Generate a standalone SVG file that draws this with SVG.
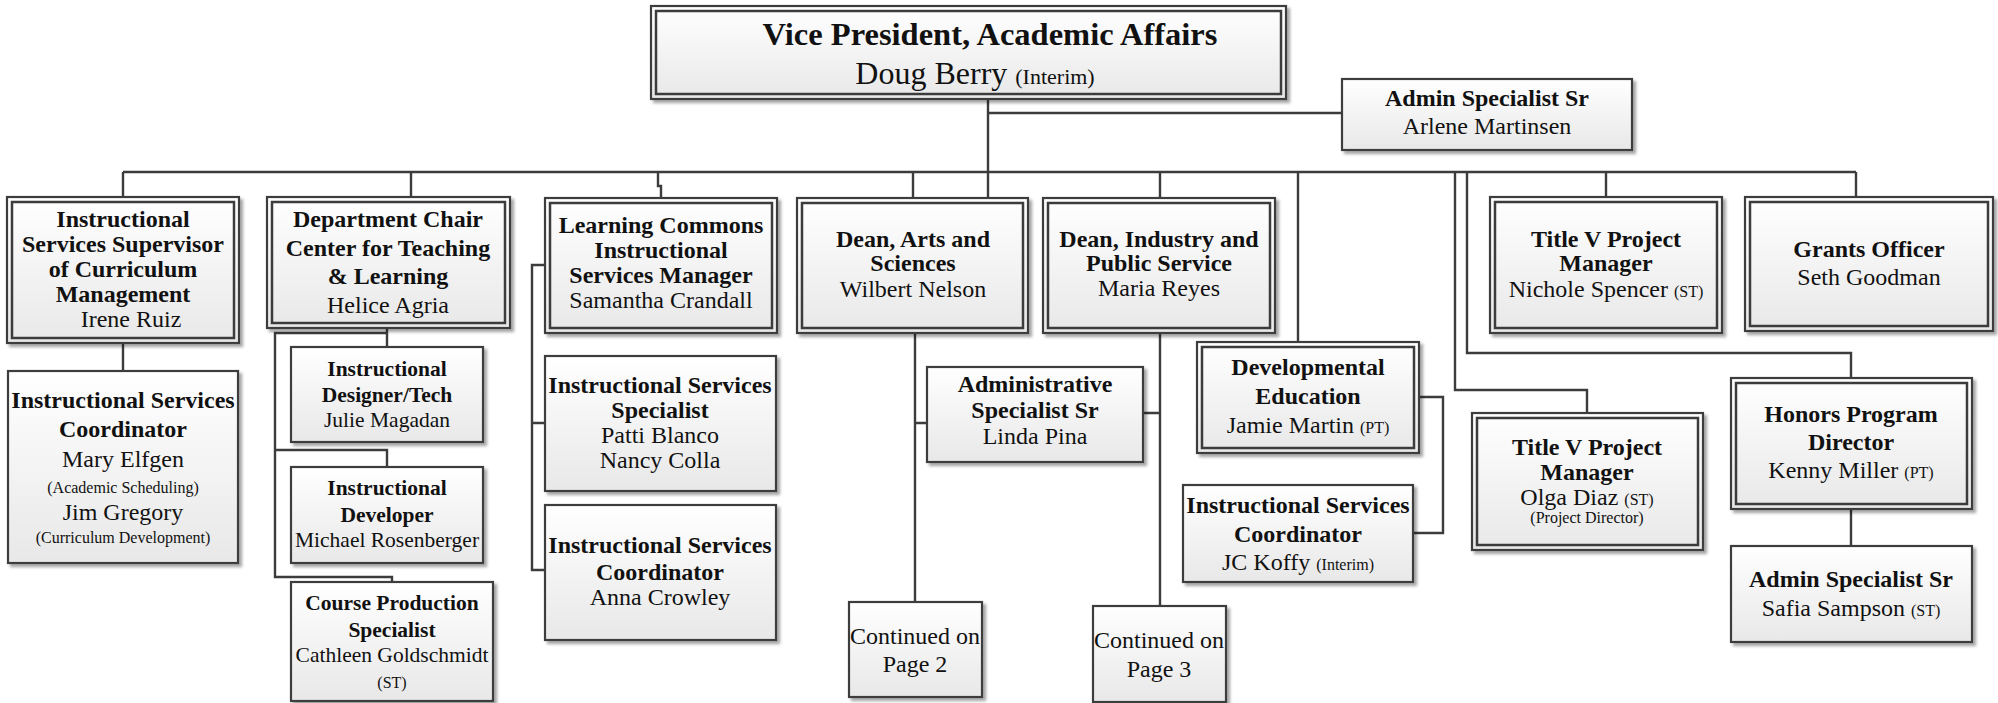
<svg xmlns="http://www.w3.org/2000/svg" width="1998" height="703" viewBox="0 0 1998 703">
<defs>
<linearGradient id="grad" x1="0" y1="0" x2="0" y2="1">
<stop offset="0" stop-color="#ffffff"/>
<stop offset="1" stop-color="#e8e8e8"/>
</linearGradient>
<filter id="sh" x="-5%" y="-5%" width="115%" height="120%">
<feDropShadow dx="3" dy="3" stdDeviation="1.5" flood-color="#000" flood-opacity="0.35"/>
</filter>
<style>
.box{fill:url(#grad);stroke:#3c3c3c;stroke-width:2.2;filter:url(#sh)}
.in{fill:none;stroke:#3c3c3c;stroke-width:2.5}
.conn{fill:none;stroke:#3c3c3c;stroke-width:2.4}
text{font-family:"Liberation Serif","Times New Roman",serif;fill:#111;text-anchor:middle}
.b{font-weight:bold;font-size:24px}
.r{font-size:24px}
.b2{font-weight:bold;font-size:21.5px}
.r2{font-size:21.5px}
.s{font-size:16px}
</style>
</defs>
<rect width="1998" height="703" fill="#ffffff"/>
<g id="connectors" class="conn">
<path d="M988,99 V197"/>
<path d="M988,113 H1342"/>
<path d="M123,172 H1856"/>
<path d="M123,172 V197 M123,343 V371"/>
<path d="M411,172 V197"/>
<path d="M387,328 V347 M387,333 H275 V577 H392 V582 M275,450 H387 V467"/>
<path d="M658,172 V186 H661 V198"/>
<path d="M545,265 H532 V570 H545 M532,423 H545"/>
<path d="M913,172 V198"/>
<path d="M915,333 V602 M915,423 H927"/>
<path d="M1160,172 V198 M1160,333 V606 M1160,413 H1143"/>
<path d="M1298,172 V342"/>
<path d="M1419,397 H1443 V533 H1413"/>
<path d="M1455,172 V390 H1587 V413"/>
<path d="M1467,172 V353 H1851 V378 M1851,509 V546"/>
<path d="M1606,172 V197"/>
<path d="M1856,172 V197"/>
</g>
<g id="vp">
<rect class="box" x="651" y="6" width="635" height="93"/>
<rect class="in" x="656" y="11" width="625" height="83"/>
<text x="990" y="45" style="font-weight:bold;font-size:32.5px">Vice President, Academic Affairs</text>
<text x="975" y="84" style="font-size:32px">Doug Berry <tspan style="font-size:22px">(Interim)</tspan></text>
</g>
<g id="admin-arlene">
<rect class="box" x="1342" y="79" width="290" height="71"/>
<text x="1487" y="106" class="b">Admin Specialist Sr</text>
<text x="1487" y="134" class="r">Arlene Martinsen</text>
</g>
<g id="curriculum-supervisor">
<rect class="box" x="7" y="197" width="232" height="146"/>
<rect class="in" x="12" y="202" width="222" height="136"/>
<text x="123" y="227" class="b">Instructional</text>
<text x="123" y="252" class="b">Services Supervisor</text>
<text x="123" y="277" class="b">of Curriculum</text>
<text x="123" y="302" class="b">Management</text>
<text x="131" y="327" class="r">Irene Ruiz</text>
</g>
<g id="dept-chair">
<rect class="box" x="267" y="197" width="243" height="131"/>
<rect class="in" x="272" y="202" width="233" height="121"/>
<text x="388" y="227" class="b">Department Chair</text>
<text x="388" y="256" class="b">Center for Teaching</text>
<text x="388" y="284" class="b">&amp; Learning</text>
<text x="388" y="313" class="r">Helice Agria</text>
</g>
<g id="learning-commons">
<rect class="box" x="545" y="198" width="232" height="135"/>
<rect class="in" x="550" y="203" width="222" height="125"/>
<text x="661" y="233" class="b">Learning Commons</text>
<text x="661" y="258" class="b">Instructional</text>
<text x="661" y="283" class="b">Services Manager</text>
<text x="661" y="308" class="r">Samantha Crandall</text>
</g>
<g id="dean-arts">
<rect class="box" x="797" y="198" width="231" height="135"/>
<rect class="in" x="802" y="203" width="221" height="125"/>
<text x="913" y="247" class="b">Dean, Arts and</text>
<text x="913" y="271" class="b">Sciences</text>
<text x="913" y="297" class="r">Wilbert Nelson</text>
</g>
<g id="dean-industry">
<rect class="box" x="1043" y="198" width="232" height="135"/>
<rect class="in" x="1048" y="203" width="222" height="125"/>
<text x="1159" y="247" class="b">Dean, Industry and</text>
<text x="1159" y="271" class="b">Public Service</text>
<text x="1159" y="296" class="r">Maria Reyes</text>
</g>
<g id="title-v-spencer">
<rect class="box" x="1490" y="197" width="232" height="136"/>
<rect class="in" x="1495" y="202" width="222" height="126"/>
<text x="1606" y="247" class="b">Title V Project</text>
<text x="1606" y="271" class="b">Manager</text>
<text x="1606" y="297" class="r">Nichole Spencer <tspan class="s">(ST)</tspan></text>
</g>
<g id="grants-officer">
<rect class="box" x="1745" y="197" width="248" height="134"/>
<rect class="in" x="1750" y="202" width="238" height="124"/>
<text x="1869" y="257" class="b">Grants Officer</text>
<text x="1869" y="285" class="r">Seth Goodman</text>
</g>
<g id="coordinator-elfgen">
<rect class="box" x="8" y="371" width="230" height="192"/>
<text x="123" y="408" class="b">Instructional Services</text>
<text x="123" y="437" class="b">Coordinator</text>
<text x="123" y="467" class="r">Mary Elfgen</text>
<text x="123" y="493" class="s">(Academic Scheduling)</text>
<text x="123" y="520" class="r">Jim Gregory</text>
<text x="123" y="543" class="s">(Curriculum Development)</text>
</g>
<g id="designer-tech">
<rect class="box" x="291" y="347" width="192" height="95"/>
<text x="387" y="376" class="b2">Instructional</text>
<text x="387" y="402" class="b2">Designer/Tech</text>
<text x="387" y="427" class="r2">Julie Magadan</text>
</g>
<g id="developer">
<rect class="box" x="291" y="467" width="192" height="96"/>
<text x="387" y="495" class="b2">Instructional</text>
<text x="387" y="522" class="b2">Developer</text>
<text x="387" y="547" class="r2">Michael Rosenberger</text>
</g>
<g id="course-production">
<rect class="box" x="291" y="582" width="202" height="119"/>
<text x="392" y="610" class="b2">Course Production</text>
<text x="392" y="637" class="b2">Specialist</text>
<text x="392" y="662" class="r2">Cathleen Goldschmidt</text>
<text x="392" y="688" class="s">(ST)</text>
</g>
<g id="specialist-blanco">
<rect class="box" x="545" y="356" width="231" height="135"/>
<text x="660" y="393" class="b">Instructional Services</text>
<text x="660" y="418" class="b">Specialist</text>
<text x="660" y="443" class="r">Patti Blanco</text>
<text x="660" y="468" class="r">Nancy Colla</text>
</g>
<g id="coordinator-crowley">
<rect class="box" x="545" y="505" width="231" height="135"/>
<text x="660" y="553" class="b">Instructional Services</text>
<text x="660" y="580" class="b">Coordinator</text>
<text x="660" y="605" class="r">Anna Crowley</text>
</g>
<g id="admin-pina">
<rect class="box" x="927" y="367" width="216" height="95"/>
<text x="1035" y="392" class="b">Administrative</text>
<text x="1035" y="418" class="b">Specialist Sr</text>
<text x="1035" y="444" class="r">Linda Pina</text>
</g>
<g id="continued-2">
<rect class="box" x="849" y="602" width="133" height="95"/>
<text x="915" y="644" class="r">Continued on</text>
<text x="915" y="672" class="r">Page 2</text>
</g>
<g id="continued-3">
<rect class="box" x="1093" y="606" width="133" height="96"/>
<text x="1159" y="648" class="r">Continued on</text>
<text x="1159" y="677" class="r">Page 3</text>
</g>
<g id="developmental-ed">
<rect class="box" x="1197" y="342" width="222" height="111"/>
<rect class="in" x="1202" y="347" width="212" height="101"/>
<text x="1308" y="375" class="b">Developmental</text>
<text x="1308" y="404" class="b">Education</text>
<text x="1308" y="433" class="r">Jamie Martin <tspan class="s">(PT)</tspan></text>
</g>
<g id="coordinator-koffy">
<rect class="box" x="1183" y="485" width="230" height="97"/>
<text x="1298" y="513" class="b">Instructional Services</text>
<text x="1298" y="542" class="b">Coordinator</text>
<text x="1298" y="570" class="r">JC Koffy <tspan class="s">(Interim)</tspan></text>
</g>
<g id="title-v-diaz">
<rect class="box" x="1472" y="413" width="231" height="137"/>
<rect class="in" x="1477" y="418" width="221" height="127"/>
<text x="1587" y="455" class="b">Title V Project</text>
<text x="1587" y="480" class="b">Manager</text>
<text x="1587" y="505" class="r">Olga Diaz <tspan class="s">(ST)</tspan></text>
<text x="1587" y="523" class="s">(Project Director)</text>
</g>
<g id="honors-director">
<rect class="box" x="1731" y="378" width="241" height="131"/>
<rect class="in" x="1736" y="383" width="231" height="121"/>
<text x="1851" y="422" class="b">Honors Program</text>
<text x="1851" y="450" class="b">Director</text>
<text x="1851" y="478" class="r">Kenny Miller <tspan class="s">(PT)</tspan></text>
</g>
<g id="admin-sampson">
<rect class="box" x="1731" y="546" width="241" height="96"/>
<text x="1851" y="587" class="b">Admin Specialist Sr</text>
<text x="1851" y="616" class="r">Safia Sampson <tspan class="s">(ST)</tspan></text>
</g>
</svg>
